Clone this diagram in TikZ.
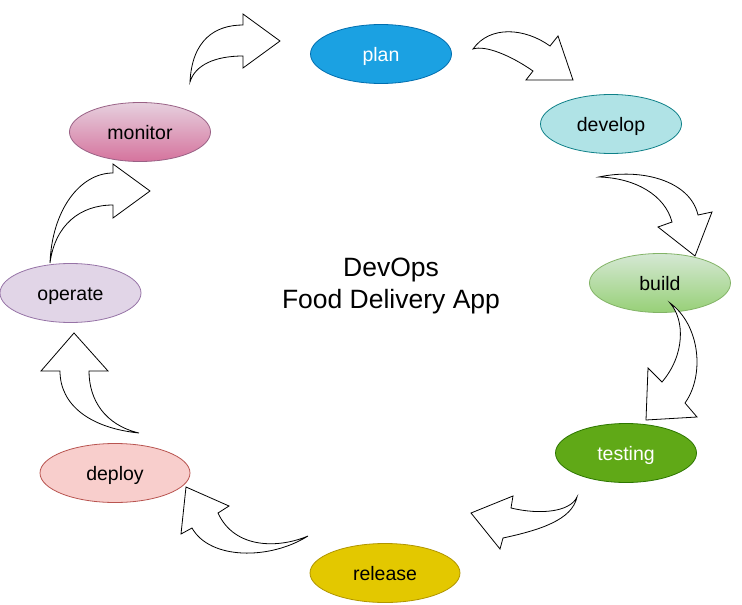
\documentclass[tikz,border=0pt]{standalone}
\usepackage{fontspec}
\setmainfont{Liberation Sans}
\usetikzlibrary{shapes.geometric}

\begin{document}
\begin{tikzpicture}[x=1pt,y=-1pt,
	phase/.style={ellipse,draw,line width=0.8pt,minimum width=141pt,minimum height=59pt,inner sep=0pt,text height=16pt,text depth=2pt,font=\fontsize{19.5}{21}\selectfont},
	bendarrow/.style={draw=black,line width=0.8pt,fill=white,line join=miter}]
	\useasboundingbox (0,0) rectangle (742,605);
	%
	\node[phase,fill={rgb,255:red,27;green,161;blue,226},draw={rgb,255:red,0;green,110;blue,175},text=white] (plan) at (381,54) {plan};
	\node[phase,fill={rgb,255:red,176;green,227;blue,230},draw={rgb,255:red,14;green,128;blue,136}] (develop) at (611,124) {develop};
	\node[phase,top color={rgb,255:red,213;green,232;blue,212},bottom color={rgb,255:red,151;green,208;blue,119},draw={rgb,255:red,130;green,179;blue,102}] (build) at (660,283) {build};
	\node[phase,fill={rgb,255:red,96;green,169;blue,23},draw={rgb,255:red,45;green,118;blue,0},text=white] (testing) at (626,453) {testing};
	\node[phase,minimum width=150pt,fill={rgb,255:red,227;green,200;blue,0},draw={rgb,255:red,176;green,149;blue,0}] (release) at (385,573) {release};
	\node[phase,minimum width=150pt,fill={rgb,255:red,248;green,206;blue,204},draw={rgb,255:red,184;green,84;blue,80}] (deploy) at (115,473) {deploy};
	\node[phase,fill={rgb,255:red,225;green,213;blue,231},draw={rgb,255:red,150;green,115;blue,166}] (operate) at (70.5,293) {operate};
	\node[phase,top color={rgb,255:red,230;green,208;blue,222},bottom color={rgb,255:red,213;green,115;blue,157},draw={rgb,255:red,153;green,97;blue,133}] (monitor) at (140,132) {monitor};
	%
	\node[align=center,font=\fontsize{26.5}{32}\selectfont] (title) at (391,286) {DevOps\\Food Delivery App};
	%
	% curved block arrows
	\draw[bendarrow] (190,82) .. controls (192,40) and (215,25) .. (243,25) -- (243,14) -- (280,41) -- (243,68) -- (243,56) .. controls (215,56) and (195,65) .. (190,82) -- cycle;
	\draw[bendarrow] (473,49) .. controls (490,25) and (525,28) .. (550,46) -- (558,36) -- (573,80) -- (526,80) -- (533,71) .. controls (510,55) and (485,45) .. (473,49) -- cycle;
	\draw[bendarrow] (599,177) .. controls (640,168) and (690,180) .. (698,215) -- (712,212) -- (695,256) -- (658,227) -- (672,222) .. controls (665,195) and (635,178) .. (599,177) -- cycle;
	\draw[bendarrow] (670,303) .. controls (700,325) and (705,375) .. (685,403) -- (697,417) -- (646,420) -- (648,368) -- (662,382) .. controls (685,355) and (685,320) .. (670,303) -- cycle;
	\draw[bendarrow] (577,497) .. controls (570,512) and (540,515) .. (511,508) -- (513,496) -- (471,513) -- (500,549) -- (503,538) .. controls (540,530) and (572,520) .. (577,497) -- cycle;
	\draw[bendarrow] (308,536) .. controls (280,548) and (235,550) .. (218,513) -- (229,506) -- (186,487) -- (181,534) -- (192,528) .. controls (210,560) and (270,560) .. (308,536) -- cycle;
	\draw[bendarrow] (139,433) .. controls (90,428) and (60,405) .. (60,371) -- (41,371) -- (74,333) -- (108,371) -- (89,371) .. controls (89,400) and (105,425) .. (139,433) -- cycle;
	\draw[bendarrow] (50,263) .. controls (52,210) and (80,173) .. (113,173) -- (113,164) -- (150,191) -- (113,218) -- (113,205) .. controls (80,205) and (55,225) .. (50,263) -- cycle;
\end{tikzpicture}
\end{document}
